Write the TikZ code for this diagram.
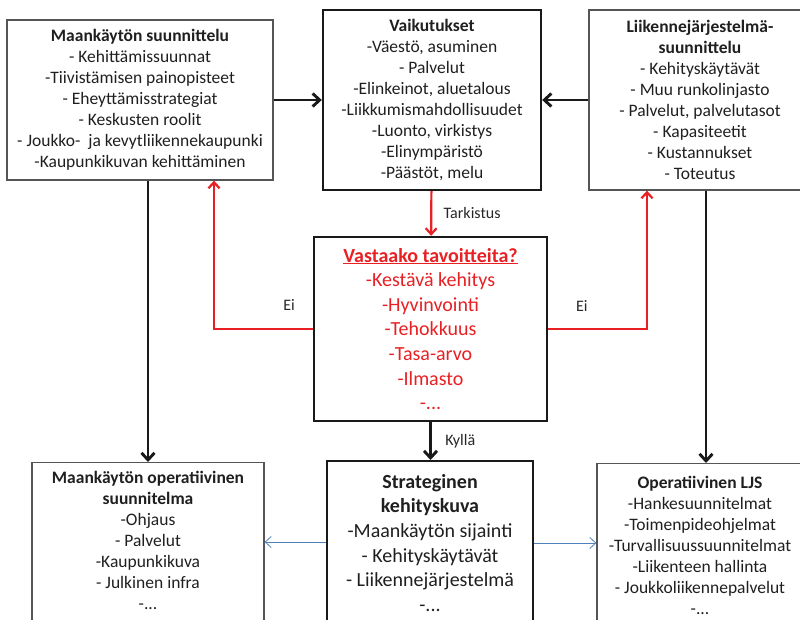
\documentclass[tikz,border=0pt]{standalone}
\usepackage{fontspec}
\setmainfont{Carlito}
\usetikzlibrary{positioning,arrows.meta}
\definecolor{tavred}{RGB}{232,32,36}
\definecolor{ljsblue}{RGB}{79,129,189}
\definecolor{boxgray}{RGB}{85,85,85}

\begin{document}
\begin{tikzpicture}[
  x=1pt, y=-1pt,
  font=\fontsize{17.5}{21}\selectfont,
  text=black!88,
  thinbox/.style={draw=boxgray, line width=1.3pt, align=center, inner sep=0pt},
  thickbox/.style={draw=black!90, line width=2.4pt, align=center, inner sep=0pt},
  big/.style={font=\fontsize{20}{24.6}\selectfont},
  flow/.style={draw=black!90, line width=2.9pt, -{Straight Barb[length=7pt,width=13pt]}},
  check/.style={draw=tavred, line width=2.2pt, -{Straight Barb[length=6pt,width=11pt]}},
  link/.style={draw=ljsblue, line width=0.8pt, -{Straight Barb[length=6pt,width=11pt]}},
  lbl/.style={font=\fontsize{16}{19}\selectfont, text=black!85},
]
\useasboundingbox (0,0) rectangle (800,620);
\clip (0,0) rectangle (800,620);

% top row
\node[thinbox, minimum width=266, minimum height=160] (mkplan) at (140,100)
  {\textbf{Maankäytön suunnittelu}\\- Kehittämissuunnat\\-Tiivistämisen painopisteet\\
   - Eheyttämisstrategiat\\- Keskusten roolit\\- Joukko-\ \ ja kevytliikennekaupunki\\
   -Kaupunkikuvan kehittäminen};
\node[thickbox, minimum width=218, minimum height=180] (vaik) at (432,100)
  {\textbf{Vaikutukset}\\-Väestö, asuminen\\- Palvelut\\-Elinkeinot, aluetalous\\
   -Liikkumismahdollisuudet\\-Luonto, virkistys\\-Elinympäristö\\-Päästöt, melu};
\node[thinbox, minimum width=222, minimum height=180] (ljsplan) at (700,100)
  {\textbf{Liikennejärjestelmä-}\\\textbf{suunnittelu}\\- Kehityskäytävät\\- Muu runkolinjasto\\
   - Palvelut, palvelutasot\\- Kapasiteetit\\- Kustannukset\\- Toteutus};

% goals check
\node[thickbox, big, text=tavred, minimum width=233, minimum height=184] (tavoite) at (430.5,329)
  {\underline{\textbf{Vastaako tavoitteita?}}\\-Kestävä kehitys\\-Hyvinvointi\\-Tehokkuus\\
   -Tasa-arvo\\-Ilmasto\\-...};

% bottom row
\node[thinbox, anchor=north, minimum width=232, inner ysep=9pt, text depth=60pt] (mkoper) at (148,462)
  {\textbf{Maankäytön operatiivinen}\\\textbf{suunnitelma}\\-Ohjaus\\- Palvelut\\-Kaupunkikuva\\
   - Julkinen infra\\-...};
\node[thickbox, big, anchor=north, minimum width=206, inner ysep=13pt, text depth=60pt] (kuva) at (430,460)
  {\textbf{Strateginen}\\\textbf{kehityskuva}\\-Maankäytön sijainti\\- Kehityskäytävät\\
   - Liikennejärjestelmä\\-...};
\node[thinbox, anchor=north, minimum width=206, inner ysep=13pt, text depth=60pt] (ljsoper) at (700,463)
  {\textbf{Operatiivinen LJS}\\-Hankesuunnitelmat\\-Toimenpideohjelmat\\-Turvallisuussuunnitelmat\\
   -Liikenteen hallinta\\- Joukkoliikennepalvelut\\-...};

\draw[flow] (mkplan) -- (vaik);
\draw[flow] (ljsplan) -- (vaik);
\draw[check] (vaik) -- node[lbl, right=8pt] {Tarkistus} (tavoite);
\draw[check] (tavoite.west) -| node[lbl, pos=0.12, above=14pt] {Ei} ([xshift=74]mkplan.south);
\draw[check] (tavoite.east) -| node[lbl, pos=0.17, above=13pt] {Ei} ([xshift=-53]ljsplan.south);
\draw[flow] (tavoite.south) -- node[lbl, right=10pt] {Kyllä} (tavoite.south |- kuva.north);
\draw[flow] (mkoper.north |- mkplan.south) -- (mkoper.north);
\draw[flow] ([xshift=6]ljsplan.south) -- ([xshift=6]ljsoper.north);
\draw[link] ([yshift=-82]kuva.north west) -- ([yshift=-82]kuva.north west -| mkoper.east);
\draw[link] ([yshift=-83]kuva.north east) -- ([yshift=-83]kuva.north east -| ljsoper.west);
\end{tikzpicture}
\end{document}
